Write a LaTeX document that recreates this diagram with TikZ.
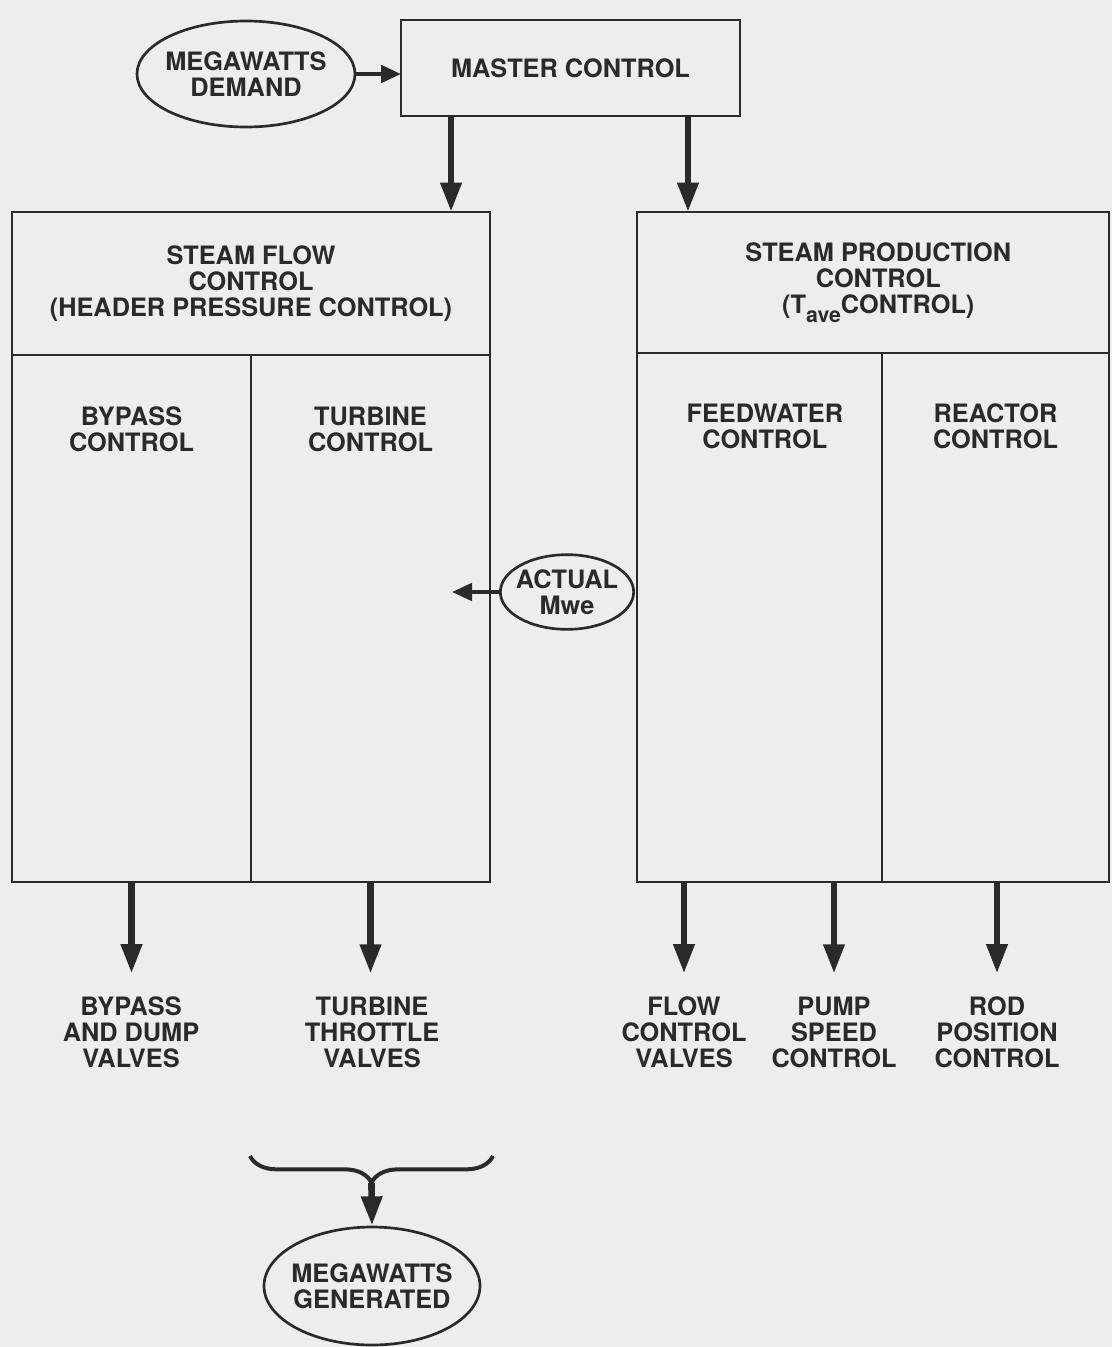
\documentclass[tikz,border=0pt]{standalone}
\usepackage{fontspec}
\setmainfont{TeX Gyre Heros}
\usetikzlibrary{positioning,arrows.meta,shapes.geometric,decorations.pathreplacing}
\definecolor{paper}{HTML}{EDEDED}
\definecolor{ink}{HTML}{2A2A2A}
\tikzset{
box/.style={
  draw=ink,
  line width=2pt,
  rectangle,
  inner sep=0pt,
  outer sep=0pt
  },
oval/.style={
  draw=ink,
  line width=2pt,
  ellipse,
  inner sep=-10pt
  },
txt/.style={
  text=ink,
  align=center,
  inner sep=0pt,
  font=\bfseries\fontsize{19}{19.5}\selectfont
  },
bigarrow/.style={
  draw=ink,
  line width=5pt,
  -{Triangle[length=22pt,width=15pt]}
  },
smallarrow/.style={
  draw=ink,
  line width=3pt,
  -{Triangle[length=15pt,width=13pt]}
  }
}

\begin{document}
\begin{tikzpicture}[x=0.75pt, y=-0.75pt]
\fill[paper] (0,0) rectangle (1112,1347);

% top row
\node[txt, oval, minimum width=163.5pt, minimum height=79.5pt]
  (demand) at (246,74) {MEGAWATTS\\DEMAND};
\node[box, txt, minimum width=254.25pt, minimum height=72pt]
  (master) at (570.5,68) {MASTER CONTROL};

% steam flow side
\node[box, txt, minimum width=358.5pt, minimum height=107.25pt]
  (sfc) at (251,283.5) {STEAM FLOW\\CONTROL\\(HEADER PRESSURE CONTROL)};
\node[box, minimum width=179.25pt, minimum height=395.25pt,
  below right=0pt and 0pt of sfc.south west] (bypass) {};
\node[box, minimum width=179.25pt, minimum height=395.25pt,
  right=0pt of bypass] (turbine) {};
\node[txt] (bypasslbl) at ([yshift=-56pt]bypass.north) {BYPASS\\CONTROL};
\node[txt] (turbinelbl) at ([yshift=-56pt]turbine.north) {TURBINE\\CONTROL};

% steam production side
\node[box, minimum width=354pt, minimum height=105.75pt]
  (spc) at (873,282.5) {};
\node[txt] (spclbl) at ([xshift=4pt]spc.center)
  {STEAM PRODUCTION\\CONTROL\\(T\raisebox{-7pt}{\fontsize{16}{16}\selectfont ave}CONTROL)};
\node[box, minimum width=183.75pt, minimum height=396.75pt,
  below right=0pt and 0pt of spc.south west] (feed) {};
\node[box, minimum width=170.25pt, minimum height=396.75pt,
  right=0pt of feed] (reactor) {};
\node[txt] (feedlbl) at ([xshift=4pt, yshift=-55pt]feed.north) {FEEDWATER\\CONTROL};
\node[txt] (reactorlbl) at ([yshift=-55pt]reactor.north) {REACTOR\\CONTROL};

\node[txt, oval, minimum width=100pt, minimum height=56pt]
  (actual) at (567,592) {ACTUAL\\Mwe};
\coordinate (mwein) at (452,592);

% outputs
\node[txt] (bdv) at (131,1032) {BYPASS\\AND DUMP\\VALVES};
\node[txt] (ttv) at (372,1032) {TURBINE\\THROTTLE\\VALVES};
\node[txt] (fcv) at (684,1032) {FLOW\\CONTROL\\VALVES};
\node[txt] (psc) at (834,1032) {PUMP\\SPEED\\CONTROL};
\node[txt] (rpc) at (997,1032) {ROD\\POSITION\\CONTROL};

\coordinate (brl) at (250,1156);
\coordinate (brr) at (493,1156);
\coordinate (brtip) at (371.5,1183);
\node[txt, oval, minimum width=162pt, minimum height=88.5pt]
  (gen) at (372,1286) {MEGAWATTS\\GENERATED};

% arrows
\draw[smallarrow] (demand.east) -- (demand.east -| master.west);
\draw[bigarrow] ([xshift=-89.6pt]master.south) coordinate (m1) -- (m1 |- sfc.north);
\draw[bigarrow] ([xshift=88.1pt]master.south) coordinate (m2) -- (m2 |- spc.north);
\draw[smallarrow] (actual.west) -- (mwein);

\begin{scope}[shorten >=17pt]
\draw[bigarrow] (bypass.south) -- (bypass.south |- bdv.north);
\draw[bigarrow] (turbine.south) -- (turbine.south |- ttv.north);
\draw[bigarrow] (fcv.north |- feed.south) -- (fcv.north);
\draw[bigarrow] (psc.north |- feed.south) -- (psc.north);
\draw[bigarrow] (rpc.north |- reactor.south) -- (rpc.north);
\end{scope}

\draw[draw=ink, line width=3pt, decorate, decoration={brace, amplitude=20pt, mirror}]
  (brl) -- (brr);
\draw[bigarrow] (brtip) -- (gen.north);
\end{tikzpicture}
\end{document}
